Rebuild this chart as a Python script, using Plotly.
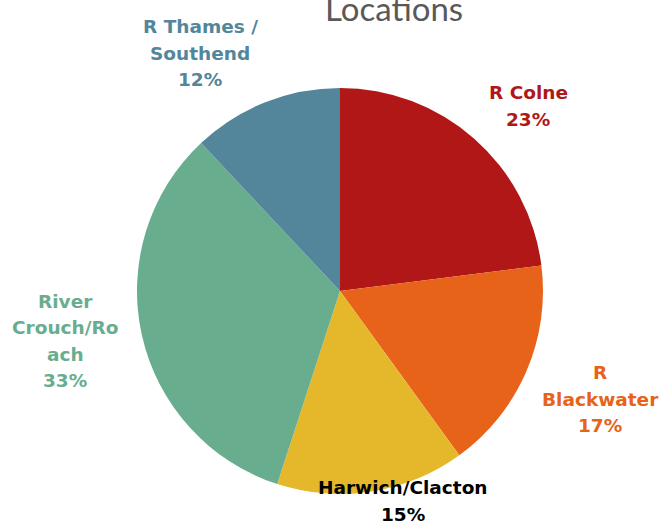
import plotly.graph_objects as go

categories = ["R Colne", "R Blackwater", "Harwich/Clacton", "River Crouch/Roach", "R Thames / Southend"]
label_lines = [["R Colne"], ["R", "Blackwater"], ["Harwich/Clacton"], ["River", "Crouch/Ro", "ach"], ["R Thames /", "Southend"]]
percentages = [23, 17, 15, 33, 12]
slice_colors = ["#B01716", "#E8631A", "#E5B82C", "#69AD8F", "#53859B"]
text_colors = ["#B01716", "#E8631A", "#000000", "#69AD8F", "#53859B"]
# label anchor positions (pixels from top-left, centre of text block)
label_x = [528, 600, 403, 65, 200]
label_y = [106, 399, 501, 341, 53]
LINE_GAP = 26.5

W, H = 662, 524
cx, cy, r = 340, 233, 203  # pie centre (y from bottom) and radius, pixels
fig = go.Figure(go.Pie(
    labels=categories,
    values=percentages,
    sort=False,
    direction="clockwise",
    rotation=0,
    marker=dict(colors=slice_colors, line=dict(width=0)),
    textinfo="none",
    hoverinfo="label+percent",
    domain=dict(x=[(cx - r) / W, (cx + r) / W], y=[(cy - r) / H, (cy + r) / H]),
    showlegend=False,
))

for lines, pct, col, lx, ly in zip(label_lines, percentages, text_colors, label_x, label_y):
    all_lines = lines + [f"{pct}%"]
    n = len(all_lines)
    for i, t in enumerate(all_lines):
        yy = ly + (i - (n - 1) / 2) * LINE_GAP
        fig.add_annotation(
            x=lx / W, y=1 - yy / H, xref="paper", yref="paper",
            text=f"<b>{t}</b>",
            showarrow=False, align="center",
            xanchor="center", yanchor="middle",
            font=dict(family="DejaVu Sans", size=18.5, color=col),
        )

fig.add_annotation(
    x=394 / W, y=1 - 8 / H, xref="paper", yref="paper",
    text="Locations", showarrow=False, xanchor="center", yanchor="middle",
    font=dict(family="Lato", size=33, color="#595959"),
)

fig.update_layout(
    width=W, height=H,
    margin=dict(l=0, r=0, t=0, b=0),
    paper_bgcolor="white", plot_bgcolor="white",
)

fig.write_html("out.html", config={"displayModeBar": False},
               post_script="document.body.style.margin='0';")
